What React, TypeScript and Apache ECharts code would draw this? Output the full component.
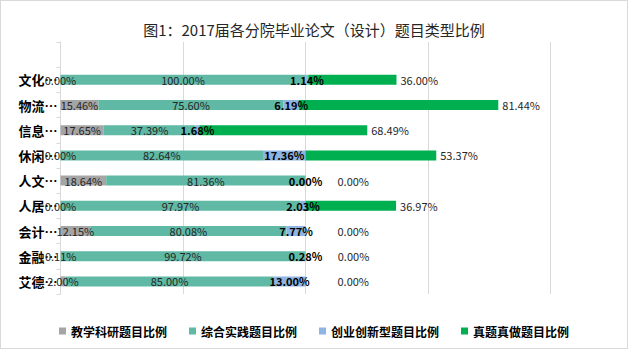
import React, { useEffect, useRef } from "react";
import * as echarts from "echarts";

const categories = ["", "文化…", "物流…", "信息…", "休闲…", "人文…", "人居…", "会计…", "金融…", "艾德…"];
const seriesNames = ["教学科研题目比例", "综合实践题目比例", "创业创新型题目比例", "真题真做题目比例"];
const teachingResearch = [null, 0.0, 15.46, 17.65, 0.0, 18.64, 0.0, 12.15, 0.11, 2.0];
const comprehensivePractice = [null, 100.0, 75.6, 37.39, 82.64, 81.36, 97.97, 80.08, 99.72, 85.0];
const innovation = [null, 1.14, 6.19, 1.68, 17.36, 0.0, 2.03, 7.77, 0.28, 13.0];
const realProjects = [null, 36.0, 81.44, 68.49, 53.37, 0.0, 36.97, 0.0, 0.0, 0.0];

const colors = ["#a5a5a5", "#5fb9a5", "#8eb4e3", "#00b050"];
const FONT = "'Noto Sans CJK SC', 'Noto Sans', sans-serif";

export default function App() {
  const ref = useRef<HTMLDivElement>(null);
  useEffect(() => {
    document.body.style.margin = "0";
    const chart = echarts.init(ref.current!, undefined, { renderer: "svg" });
    const fmt = (p: any) => (p.value == null ? "" : Number(p.value).toFixed(2) + "%");
    const dataSets = [teachingResearch, comprehensivePractice, innovation, realProjects];
    const series = dataSets.map((d, i) => ({
      name: seriesNames[i],
      type: "bar",
      stack: "total",
      barWidth: 10,
      itemStyle: { color: colors[i] },
      data: d.map((v) =>
        i === 3 && v === 0
          ? { value: v, label: { distance: 32 } }
          : v
      ),
      label: {
        show: true,
        position: i === 3 ? "right" : "inside",
        distance: 4,
        formatter: fmt,
        fontFamily: FONT,
        fontSize: 11,
        color: i === 2 ? "#000" : "#262626",
        fontWeight: i === 2 ? "bold" : "normal",
      },
    }));
    chart.setOption({
      animation: false,
      textStyle: { fontFamily: FONT },
      title: {
        text: "图1：2017届各分院毕业论文（设计）题目类型比例",
        left: "center",
        top: 16,
        textStyle: { fontFamily: FONT, fontSize: 15, fontWeight: "normal", color: "#262626" },
      },
      legend: {
        bottom: 6,
        left: "center",
        itemWidth: 7,
        itemHeight: 7,
        itemGap: 22,
        icon: "rect",
        textStyle: { fontFamily: FONT, fontSize: 12, fontWeight: "bold", color: "#000" },
        data: seriesNames,
      },
      grid: { left: 59.5, right: 76.5, top: 41, bottom: 54, containLabel: false },
      xAxis: {
        type: "value",
        min: 0,
        max: 200,
        interval: 50,
        axisLabel: { show: false },
        axisLine: { show: false },
        axisTick: { show: false },
        splitLine: { show: true, lineStyle: { color: "#d9d9d9", width: 1 } },
      },
      yAxis: {
        type: "category",
        inverse: true,
        data: categories,
        axisLine: { show: true, lineStyle: { color: "#d9d9d9" } },
        axisTick: { show: true, length: 4, lineStyle: { color: "#d9d9d9" } },
        axisLabel: { margin: 3, fontFamily: FONT, fontSize: 13, fontWeight: "bold", color: "#000" },
      },
      series,
    });
    return () => chart.dispose();
  }, []);
  return (
    <div
      ref={ref}
      style={{
        position: "absolute",
        left: 0,
        top: 0,
        width: 628,
        height: 349,
        boxSizing: "border-box",
        border: "1px solid #d9d9d9",
        background: "#fff",
      }}
    />
  );
}
